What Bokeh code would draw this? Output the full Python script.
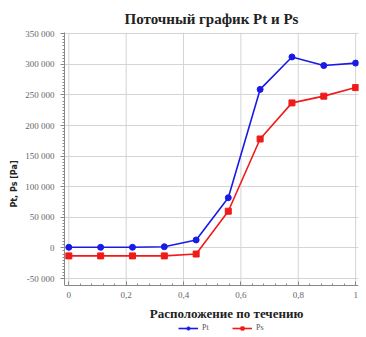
from bokeh.plotting import figure
from bokeh.models import (FixedTicker, CustomJSTickFormatter, Legend, LegendItem, Range1d, Label)
from bokeh.embed import file_html
from bokeh.resources import INLINE

# data
positions = [0.0, 0.111, 0.222, 0.333, 0.444, 0.556, 0.667, 0.778, 0.889, 1.0]
pt_values = [1000, 1000, 1000, 2000, 13000, 82000, 259000, 312000, 298000, 302000]
ps_values = [-13000, -13000, -13000, -13000, -10000, 60000, 178000, 237000, 248000, 262000]
x_ticks = [0, 0.2, 0.4, 0.6, 0.8, 1.0]
x_tick_labels = ["0", "0,2", "0,4", "0,6", "0,8", "1"]
y_ticks = [-50000, 0, 50000, 100000, 150000, 200000, 250000, 300000, 350000]

title_text = "Поточный график Pt и Ps"
x_label = "Расположение по течению"
y_label = "Pt, Ps [Pa]"

W, H = 366, 337
B_LEFT, B_RIGHT, B_TOP, B_BOTTOM = 64, 8, 32, 2
UPP = 1634.0                       # data units per pixel on the y axis
Y1 = 352000
FRAME_H = H - B_TOP - B_BOTTOM
Y0 = Y1 - FRAME_H * UPP
AXIS_Y = Y1 - 253 * UPP            # x axis line, below the -50 000 grid line

p = figure(width=W, height=H, output_backend="svg", toolbar_location=None,
           x_range=Range1d(-0.015, 1.01), y_range=Range1d(Y0, Y1),
           min_border_left=B_LEFT, min_border_right=B_RIGHT, min_border_top=B_TOP,
           min_border_bottom=B_BOTTOM,
           title=title_text)
p.outline_line_color = None
p.title.align = "center"
p.title.offset = 5
p.title.text_font = "Liberation Serif"
p.title.text_font_size = "15px"
p.title.text_font_style = "bold"
p.title.text_color = "#222222"
p.title.standoff = 11

# vertical grid lines limited to the plotting area (axis line up to top)
p.xgrid.visible = False
p.segment(x0=x_ticks, x1=x_ticks, y0=[AXIS_Y] * len(x_ticks), y1=[Y1] * len(x_ticks),
          line_color="#d4d4d4", line_width=1)

blue = "#1a1ae6"
red = "#f01a1a"
l1 = p.line(positions, pt_values, line_color=blue, line_width=1.6)
m1 = p.scatter(positions, pt_values, marker="circle", size=6, color=blue)
l2 = p.line(positions, ps_values, line_color=red, line_width=1.6)
m2 = p.scatter(positions, ps_values, marker="square", size=6, color=red)

# axes
xa = p.xaxis[0]
xa.fixed_location = AXIS_Y
xa.ticker = FixedTicker(ticks=x_ticks,
                        minor_ticks=[i * 0.04 for i in range(26)])
xa.major_label_overrides = {t: s for t, s in zip(x_ticks, x_tick_labels)}
xa.major_tick_in = 4
xa.major_tick_out = 0
xa.minor_tick_in = 2
xa.minor_tick_out = 0
xa.axis_line_color = "#888888"
xa.major_tick_line_color = "#888888"
xa.minor_tick_line_color = "#888888"
xa.major_label_text_font = "Liberation Serif"
xa.major_label_text_font_size = "9px"
xa.major_label_text_color = "#666666"
xa.major_label_standoff = 6

ya = p.yaxis[0]
ya.bounds = (AXIS_Y, Y1)
ya.ticker = FixedTicker(ticks=y_ticks,
                        minor_ticks=[-50000 + i * 5000 for i in range(81)])
ya.formatter = CustomJSTickFormatter(code="""
var s = Math.abs(tick).toFixed(0).replace(/\\B(?=(\\d{3})+(?!\\d))/g, ' ');
return (tick < 0 ? '-' : '') + s;
""")
ya.major_tick_in = 0
ya.major_tick_out = 4
ya.minor_tick_in = 0
ya.minor_tick_out = 2
ya.axis_line_color = "#888888"
ya.major_tick_line_color = "#888888"
ya.minor_tick_line_color = "#888888"
ya.major_label_text_font = "Liberation Serif"
ya.major_label_text_font_size = "9px"
ya.major_label_text_color = "#666666"
ya.major_label_standoff = 6
ya.axis_label = y_label
ya.axis_label_text_font = "DejaVu Sans"
ya.axis_label_text_font_size = "8px"
ya.axis_label_text_font_style = "bold"
ya.axis_label_text_color = "#222222"
ya.axis_label_standoff = 3

p.ygrid.ticker = FixedTicker(ticks=y_ticks)
p.ygrid.grid_line_color = "#d4d4d4"
p.ygrid.grid_line_width = 1

# x axis title, placed under the tick labels
p.add_layout(Label(x=0.55, y=Y1 - 281 * UPP, text=x_label,
                   text_align="center", text_baseline="middle",
                   text_font="Liberation Serif", text_font_size="13px",
                   text_font_style="bold", text_color="#222222"))

legend = Legend(items=[LegendItem(label="Pt", renderers=[l1, m1]),
                       LegendItem(label="Ps", renderers=[l2, m2])],
                orientation="horizontal", location=(114, 3),
                label_text_font="Liberation Serif", label_text_font_size="8px",
                label_text_color="#555555", glyph_width=20, glyph_height=8,
                spacing=10, padding=0, margin=0, border_line_color=None,
                background_fill_alpha=0, label_standoff=4, label_height=8)
p.add_layout(legend, "center")

open("out.html", "w").write(file_html(p, INLINE))
